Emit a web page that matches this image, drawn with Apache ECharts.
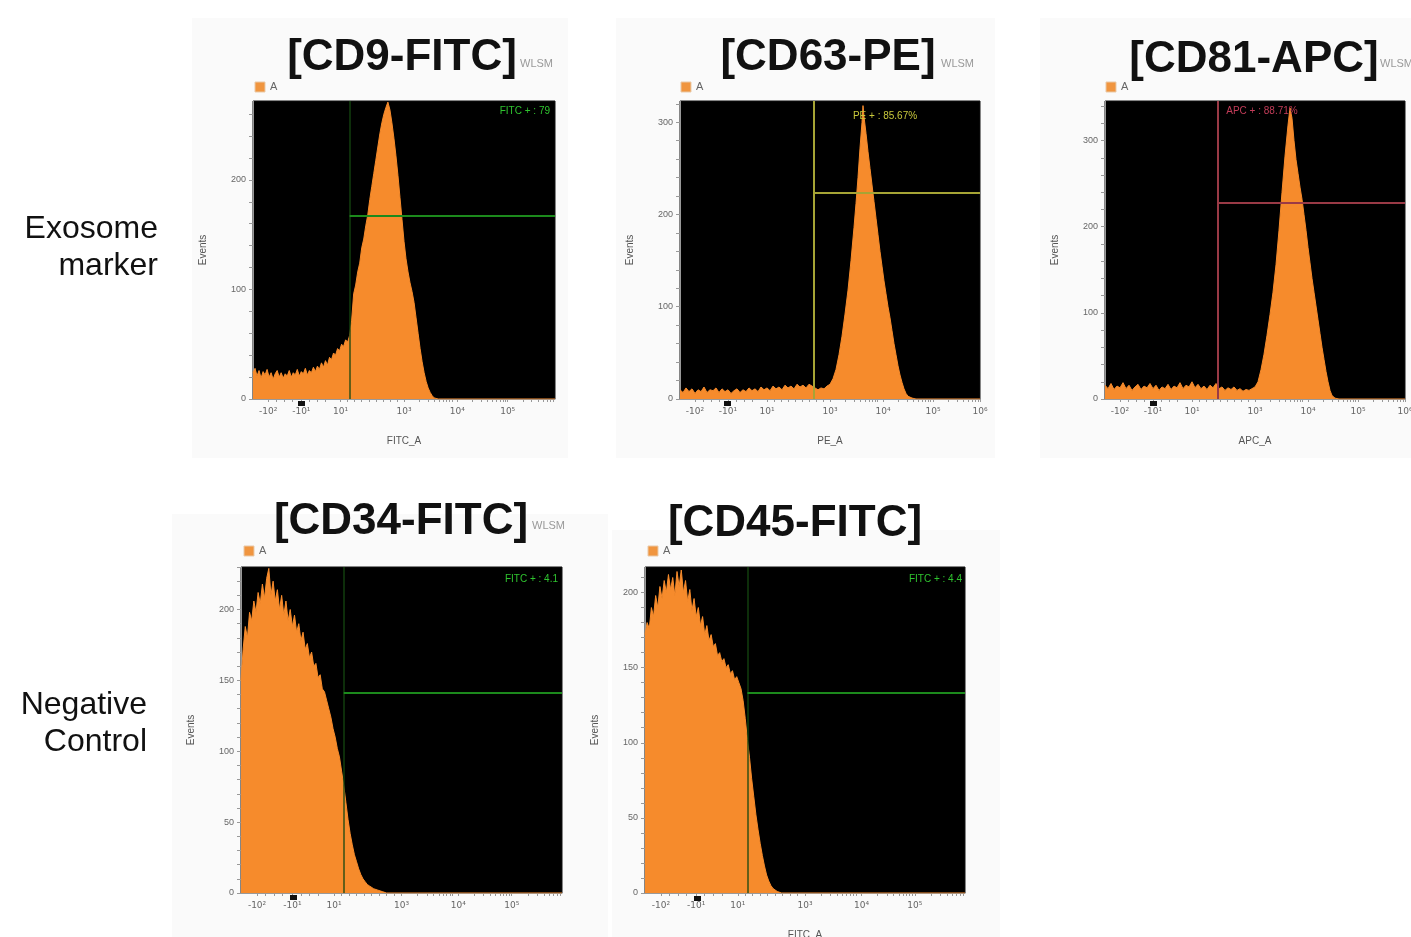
<!DOCTYPE html>
<html>
<head>
<meta charset="utf-8">
<script src="https://cdn.jsdelivr.net/npm/echarts@6/dist/echarts.min.js"></script>
<style>
html,body{margin:0;padding:0;background:#fff;}
#chart{width:1411px;height:937px;}
</style>
</head>
<body>
<div id="chart"></div>
<script>
// ---------- DATA ----------
// x positions are in display units of the biexponential axis (0..300)
const tickU = [15, 48, 87, 150, 203, 253, 300];
const tickText = ['-10²', '-10¹', '10¹', '10³', '10⁴', '10⁵', '10⁶'];

const titles = ['[CD9-FITC]', '[CD63-PE]', '[CD81-APC]', '[CD34-FITC]', '[CD45-FITC]'];
const xNames = ['FITC_A', 'PE_A', 'APC_A', '', 'FITC_A'];
const yMax = [272, 323, 346, 230, 217];
const yMajor = [[0, 100, 200], [0, 100, 200, 300], [0, 100, 200, 300], [0, 50, 100, 150, 200], [0, 50, 100, 150, 200]];
const yMinorStep = [20, 20, 20, 10, 10];
const gateU = [96, 134, 113, 96, 96];
const gateLevel = [167, 224, 228, 141, 133];
const gateLabels = ['FITC + : 79', 'PE + : 85.67%', 'APC + : 88.71%', 'FITC + : 4.1', 'FITC + : 4.4'];

const cd9 = [[0,24],[2,28],[4,21],[6,26],[8,19],[10,25],[12,22],[14,27],[16,20],[18,24],[20,18],[22,23],[24,26],[26,20],[28,24],[30,19],[32,23],[34,21],[36,26],[38,20],[40,24],[42,22],[44,27],[46,21],[48,25],[50,23],[52,28],[54,22],[56,26],[58,24],[60,29],[62,25],[64,30],[66,27],[68,33],[70,29],[72,35],[74,31],[76,38],[78,36],[80,42],[82,40],[84,46],[86,44],[88,50],[90,48],[92,54],[94,52],[96,58],[98,72],[100,96],[102,104],[104,116],[106,124],[108,138],[110,146],[112,158],[114,168],[116,182],[118,194],[120,206],[122,218],[124,230],[126,242],[128,252],[130,260],[132,266],[134,271],[136,264],[138,252],[140,238],[142,222],[144,204],[146,184],[148,164],[150,144],[152,128],[154,116],[156,106],[158,98],[160,88],[162,74],[164,60],[166,46],[168,34],[170,24],[172,16],[174,10],[176,6],[178,3],[180,1],[184,0],[300,0]];

const cd63 = [[0,10],[3,7],[6,12],[9,8],[12,11],[15,6],[18,10],[21,8],[24,13],[27,7],[30,10],[33,9],[36,12],[39,7],[42,11],[45,8],[48,10],[51,6],[54,9],[57,11],[60,7],[63,10],[66,8],[69,12],[72,9],[75,11],[78,8],[81,13],[84,10],[87,12],[90,9],[93,14],[96,11],[99,13],[102,10],[105,15],[108,12],[111,14],[114,11],[117,16],[120,13],[123,15],[126,12],[129,16],[132,14],[135,12],[138,10],[141,12],[144,11],[147,14],[150,16],[153,22],[156,32],[159,48],[162,68],[165,92],[168,118],[171,150],[174,186],[176,212],[178,240],[180,272],[182,300],[183,318],[184,306],[186,288],[188,268],[190,250],[192,232],[194,214],[196,196],[198,178],[200,160],[202,144],[204,128],[206,114],[208,100],[210,88],[212,74],[214,60],[216,48],[218,36],[220,26],[222,18],[224,11],[226,6],[228,3],[232,1],[236,0],[300,0]];

const cd81 = [[0,16],[3,12],[6,18],[9,11],[12,15],[15,13],[18,19],[21,12],[24,16],[27,10],[30,14],[33,17],[36,11],[39,15],[42,13],[45,18],[48,12],[51,16],[54,10],[57,14],[60,12],[63,17],[66,11],[69,15],[72,13],[75,19],[78,12],[81,16],[84,14],[87,20],[90,13],[93,17],[96,12],[99,15],[102,11],[105,16],[108,13],[111,18],[114,12],[117,14],[120,10],[123,13],[126,11],[129,14],[132,10],[135,12],[138,9],[141,11],[144,10],[147,12],[150,14],[153,20],[156,34],[159,52],[162,74],[165,98],[168,124],[171,156],[174,196],[177,240],[180,282],[183,318],[185,338],[187,326],[189,300],[191,278],[193,262],[195,246],[197,232],[199,214],[201,196],[203,176],[205,158],[207,140],[209,124],[211,108],[213,92],[215,76],[217,60],[219,46],[221,32],[223,20],[225,10],[227,4],[230,1],[234,0],[300,0]];

const cd34 = [[0,150],[2,172],[4,188],[6,180],[8,198],[10,192],[12,206],[14,198],[16,212],[18,204],[20,218],[22,208],[24,222],[26,229],[28,210],[30,220],[32,206],[34,214],[36,200],[38,210],[40,196],[42,206],[44,192],[46,200],[48,188],[50,196],[52,184],[54,190],[56,178],[58,184],[60,172],[62,176],[64,166],[66,170],[68,160],[70,162],[72,152],[74,154],[76,144],[78,142],[80,136],[82,130],[84,124],[86,116],[88,110],[90,102],[92,96],[94,86],[96,76],[98,64],[100,52],[102,42],[104,34],[106,27],[108,22],[110,17],[112,13],[114,10],[116,8],[118,6],[120,5],[124,3],[128,2],[132,1],[136,0],[300,0]];

const cd45 = [[0,172],[2,180],[4,176],[6,190],[8,184],[10,198],[12,190],[14,204],[16,196],[18,208],[20,200],[22,212],[24,202],[26,210],[28,198],[30,214],[32,204],[34,215],[36,200],[38,208],[40,194],[42,202],[44,188],[46,196],[48,184],[50,190],[52,178],[54,184],[56,172],[58,178],[60,168],[62,172],[64,164],[66,166],[68,158],[70,160],[72,154],[74,156],[76,150],[78,152],[80,146],[82,148],[84,142],[86,144],[88,140],[90,136],[92,128],[94,116],[96,102],[98,90],[100,76],[102,64],[104,52],[106,42],[108,33],[110,25],[112,18],[114,12],[116,8],[118,5],[120,3],[124,1],[128,0],[300,0]];

const histograms = [cd9, cd63, cd81, cd34, cd45];

// ---------- LAYOUT / STYLE ----------
const layout = [
  {left:253, top:101, width:302, height:298, nLabels:6, titleX:402, titleY:58, wlsm:[520,64], legend:[255,82], dot:[298,401], gateTextPos:[550,111,'right']},
  {left:680, top:101, width:300, height:298, nLabels:7, titleX:828, titleY:58, wlsm:[941,64], legend:[681,82], dot:[724,401], gateTextPos:[885,116,'center']},
  {left:1105, top:101, width:300, height:298, nLabels:7, titleX:1254, titleY:60, wlsm:[1380,64], legend:[1106,82], dot:[1150,401], gateTextPos:[1262,111,'center']},
  {left:241, top:567, width:321, height:326, nLabels:6, titleX:401, titleY:522, wlsm:[532,526], legend:[244,546], dot:[290,895], gateTextPos:[558,579,'right']},
  {left:645, top:567, width:320, height:326, nLabels:6, titleX:795, titleY:524, wlsm:null, legend:[648,546], dot:[694,896], gateTextPos:[962,579,'right']}
];
const gateColors = [
  {v:'rgba(20,70,15,0.65)', h:'#1c8a1c', t:'#2fc42f'},
  {v:'#a6a435', h:'#a6a435', t:'#c9c93c'},
  {v:'#9a3a46', h:'#9a3a46', t:'#c23c58'},
  {v:'rgba(20,70,15,0.65)', h:'#1c8a1c', t:'#2fc42f'},
  {v:'rgba(20,70,15,0.65)', h:'#1c8a1c', t:'#2fc42f'}
];
const ORANGE = '#f68b2c';

function stepList(step, max) { const a = []; for (let v = 0; v <= max; v += step) a.push(v); return a; }
// minor tick positions along the biexponential x axis
const xMinor = [];
[87, 150, 203, 253].forEach(function (d, k) {
  const w = k === 0 ? 63 : 50;
  for (let m = 2; m <= 9; m++) xMinor.push(d + (k === 0 ? w * (m - 1) / 9 : w * Math.log10(m)));
});
[15, 48].forEach(function (d) { for (let m = 1; m <= 3; m++) xMinor.push(d + m * 8); });

const grids = [], xAxes = [], yAxes = [], series = [];
const graphics = [];

// faint panel backgrounds
[[192,18,376,440],[616,18,379,440],[1040,18,371,440],[172,514,436,423],[612,530,388,407]].forEach(function (r) {
  graphics.push({type:'rect', z:-10, shape:{x:r[0], y:r[1], width:r[2], height:r[3]}, style:{fill:'#fafafa'}});
});

layout.forEach(function (L, i) {
  grids.push({left:L.left, top:L.top, width:L.width, height:L.height, show:true, backgroundColor:'#000', borderColor:'#111', borderWidth:1, containLabel:false, outerBoundsMode:'none'});
  xAxes.push({
    gridIndex:i, type:'value', min:0, max:300,
    name: xNames[i], nameLocation:'middle', nameGap:37,
    nameTextStyle:{color:'#555', fontSize:10, fontFamily:'Liberation Sans'},
    axisLine:{show:true, lineStyle:{color:'#999'}},
    axisTick:{show:true, length:3, lineStyle:{color:'#999'}, customValues: tickU.slice(0, L.nLabels).concat(xMinor)},
    axisLabel:{customValues: tickU.slice(0, L.nLabels), color:'#666', fontSize:9, margin:8, fontFamily:'DejaVu Sans',
      formatter:function (v) { const k = tickU.indexOf(v); return k >= 0 ? tickText[k] : ''; }},
    splitLine:{show:false}
  });
  yAxes.push({
    gridIndex:i, type:'value', min:0, max:yMax[i],
    name:'Events', nameLocation:'middle', nameGap:45, nameRotate:90,
    nameTextStyle:{color:'#555', fontSize:10, fontFamily:'Liberation Sans'},
    axisLine:{show:true, lineStyle:{color:'#999'}},
    axisTick:{show:true, length:4, lineStyle:{color:'#999'}, customValues: stepList(yMinorStep[i], yMax[i])},
    axisLabel:{customValues: yMajor[i], color:'#666', fontSize:9, margin:7, fontFamily:'Liberation Sans'},
    splitLine:{show:false}
  });
  const gc = gateColors[i];
  series.push({
    type:'line', xAxisIndex:i, yAxisIndex:i, data:histograms[i],
    symbol:'none', showSymbol:false, animation:false, smooth:false,
    lineStyle:{color:ORANGE, width:1}, areaStyle:{color:ORANGE, opacity:1},
    markLine:{
      silent:true, symbol:['none','none'], animation:false, label:{show:false},
      data:[
        [{coord:[gateU[i], 0], lineStyle:{color:gc.v, width:2, type:'solid'}}, {coord:[gateU[i], yMax[i]]}],
        [{coord:[gateU[i], gateLevel[i]], lineStyle:{color:gc.h, width:2, type:'solid'}}, {coord:[300, gateLevel[i]]}]
      ]
    }
  });
  // title
  graphics.push({type:'text', z:50, x:L.titleX, y:L.titleY, style:{text:titles[i], font:'bold 44px "Liberation Sans", Arial, sans-serif', fill:'#111', textAlign:'center', textVerticalAlign:'middle', align:'center', verticalAlign:'middle'}});
  if (L.wlsm) graphics.push({type:'text', z:40, x:L.wlsm[0], y:L.wlsm[1], style:{text:'WLSM', font:'11px "Liberation Sans", Arial, sans-serif', fill:'#999', textAlign:'left', textVerticalAlign:'middle', align:'left', verticalAlign:'middle'}});
  // legend "A"
  graphics.push({type:'rect', z:45, shape:{x:L.legend[0], y:L.legend[1], width:10, height:10}, style:{fill:'#f0953f', stroke:'#e9c9a8', lineWidth:1}});
  graphics.push({type:'text', z:45, x:L.legend[0] + 15, y:L.legend[1] + 5, style:{text:'A', font:'11px "Liberation Sans", Arial, sans-serif', fill:'#666', textAlign:'left', textVerticalAlign:'middle', align:'left', verticalAlign:'middle'}});
  // gate label
  graphics.push({type:'text', z:60, x:L.gateTextPos[0], y:L.gateTextPos[1], style:{text:gateLabels[i], font:'10px "Liberation Sans", Arial, sans-serif', fill:gc.t, textAlign:L.gateTextPos[2], textVerticalAlign:'middle', align:L.gateTextPos[2], verticalAlign:'middle'}});
  // small black marker under axis
  graphics.push({type:'rect', z:60, shape:{x:L.dot[0], y:L.dot[1], width:7, height:5}, style:{fill:'#111'}});
});

// row labels
[['Exosome',158,229],['marker',158,266],['Negative',147,705],['Control',147,742]].forEach(function (t) {
  graphics.push({type:'text', x:t[1], y:t[2], style:{text:t[0], font:'32px "Liberation Sans", Arial, sans-serif', fill:'#111', textAlign:'right', textVerticalAlign:'middle', align:'right', verticalAlign:'middle'}});
});

const chart = echarts.init(document.getElementById('chart'), null, {renderer:'canvas'});
chart.setOption({
  backgroundColor:'#fff',
  animation:false,
  grid:grids, xAxis:xAxes, yAxis:yAxes, series:series,
  graphic:graphics
});
</script>
</body>
</html>
